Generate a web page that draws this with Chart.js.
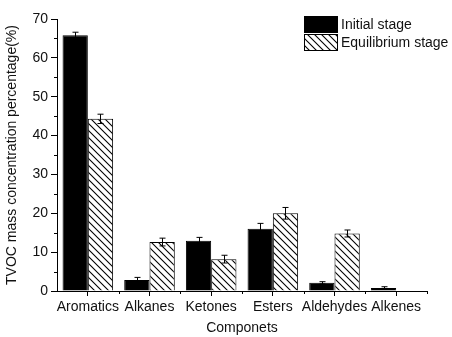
<!DOCTYPE html>
<html>
<head>
<meta charset="utf-8">
<script src="https://cdn.jsdelivr.net/npm/chart.js@4"></script>
<style>
  html, body { margin: 0; padding: 0; background: #fff; }
  #wrap { width: 452px; height: 337px; }
</style>
</head>
<body>
<div id="wrap"><canvas id="tvocChart" width="452" height="337"></canvas></div>
<script>
// values
const categories = ['Aromatics', 'Alkanes', 'Ketones', 'Esters', 'Aldehydes', 'Alkenes'];
const initialValues = [65.8, 2.8, 12.9, 16.0, 2.1, 0.8];
const initialErrors = [0.8, 0.7, 0.9, 1.4, 0.3, 0.3];
const equilibriumValues = [44.3, 12.6, 8.2, 20.0, 14.8, null];
const equilibriumErrors = [1.2, 1.0, 1.0, 1.5, 0.9, null];
const seriesLabels = ['Initial stage', 'Equilibrium stage'];
const yMin = 0, yMax = 70, yStep = 10, yMinorStep = 5;

const FONT = '"Liberation Sans", Arial, sans-serif';

function makeHatch() {
    const s = 7;
    const c = document.createElement('canvas');
    c.width = s; c.height = s;
    const g = c.getContext('2d');
    g.fillStyle = '#fff';
    g.fillRect(0, 0, s, s);
    g.strokeStyle = '#000';
    g.lineWidth = 1.1;
    g.beginPath();
    for (let k = -1; k <= 1; k++) {
        g.moveTo(k * s - 1, -1);
        g.lineTo(k * s + s + 1, s + 1);
    }
    g.stroke();
    return g.createPattern(c, 'repeat');
}
const hatch = makeHatch();

// error bars with caps
const errorBars = {
    id: 'errorBars',
    afterDatasetsDraw(chart) {
        const ctx = chart.ctx;
        const y = chart.scales.y;
        ctx.save();
        ctx.strokeStyle = '#000';
        ctx.lineWidth = 1;
        chart.data.datasets.forEach((ds, i) => {
            const meta = chart.getDatasetMeta(i);
            meta.data.forEach((bar, j) => {
                const v = ds.data[j], e = ds.errors[j];
                if (v == null || e == null) return;
                const x = Math.round(bar.x) + 0.5;
                const top = y.getPixelForValue(v + e);
                const bot = y.getPixelForValue(v - e);
                ctx.beginPath();
                ctx.moveTo(x, top); ctx.lineTo(x, bot);
                ctx.moveTo(x - 3, top); ctx.lineTo(x + 3, top);
                ctx.moveTo(x - 3, bot); ctx.lineTo(x + 3, bot);
                ctx.stroke();
            });
        });
        ctx.restore();
    }
};

// minor ticks and the legend box
const extras = {
    id: 'extras',
    afterDraw(chart) {
        const ctx = chart.ctx;
        const { x, y } = chart.scales;
        const area = chart.chartArea;
        ctx.save();
        ctx.strokeStyle = '#000';
        ctx.lineWidth = 1;
        ctx.beginPath();
        for (let v = yMin + yMinorStep; v < yMax; v += yStep) {
            const py = Math.round(y.getPixelForValue(v)) + 0.5;
            ctx.moveTo(area.left - 3, py); ctx.lineTo(area.left, py);
        }
        const step = (area.right - area.left) / categories.length;
        for (let k = 1; k <= categories.length; k++) {
            const px = Math.round(area.left + k * step) + 0.5;
            ctx.moveTo(px, area.bottom); ctx.lineTo(px, area.bottom + 3);
        }
        ctx.stroke();

        // legend
        const lx = 304, lw = 33, lh = 16;
        const rows = [16, 34];
        chart.data.datasets.forEach((ds, i) => {
            ctx.fillStyle = ds.backgroundColor;
            ctx.fillRect(lx, rows[i], lw, lh);
            ctx.strokeRect(lx + 0.5, rows[i] + 0.5, lw, lh);
            ctx.fillStyle = '#111';
            ctx.font = '14px ' + FONT;
            ctx.textBaseline = 'middle';
            ctx.fillText(ds.label, lx + lw + 4, rows[i] + lh / 2 + 1);
        });
        ctx.restore();
    }
};

new Chart(document.getElementById('tvocChart'), {
    type: 'bar',
    data: {
        labels: categories,
        datasets: [{
            label: seriesLabels[0],
            data: initialValues,
            errors: initialErrors,
            backgroundColor: '#000',
            borderColor: '#000',
            borderWidth: 1
        }, {
            label: seriesLabels[1],
            data: equilibriumValues,
            errors: equilibriumErrors,
            backgroundColor: hatch,
            borderColor: '#000',
            borderWidth: 1
        }]
    },
    options: {
        responsive: false,
        animation: false,
        devicePixelRatio: 1,
        layout: { padding: { top: 19, right: 25, left: 0, bottom: 0 } },
        datasets: { bar: { categoryPercentage: 0.82, barPercentage: 1 } },
        plugins: {
            legend: { display: false },
            tooltip: { enabled: false }
        },
        scales: {
            x: {
                offset: true,
                grid: { offset: false, drawOnChartArea: false, tickLength: 5, tickColor: '#000' },
                border: { display: true, color: '#000', width: 1 },
                ticks: { color: '#111', font: { family: FONT, size: 14 }, padding: 3, maxRotation: 0, autoSkip: false },
                title: { display: true, text: 'Componets', color: '#111', font: { family: FONT, size: 14 }, padding: { top: 0, bottom: 0 } },
                afterFit(scale) { scale.height = 46; }
            },
            y: {
                min: yMin,
                max: yMax,
                grid: { drawOnChartArea: false, tickLength: 6, tickColor: '#000' },
                border: { display: true, color: '#000', width: 1 },
                ticks: { stepSize: yStep, color: '#111', font: { family: FONT, size: 14 }, padding: 3 },
                title: { display: true, text: 'TVOC mass concentration percentage(%)', color: '#111', font: { family: FONT, size: 14 }, padding: { top: 4, bottom: 0 } },
                afterFit(scale) { scale.width = 57; }
            }
        }
    },
    plugins: [errorBars, extras]
});
</script>
</body>
</html>
